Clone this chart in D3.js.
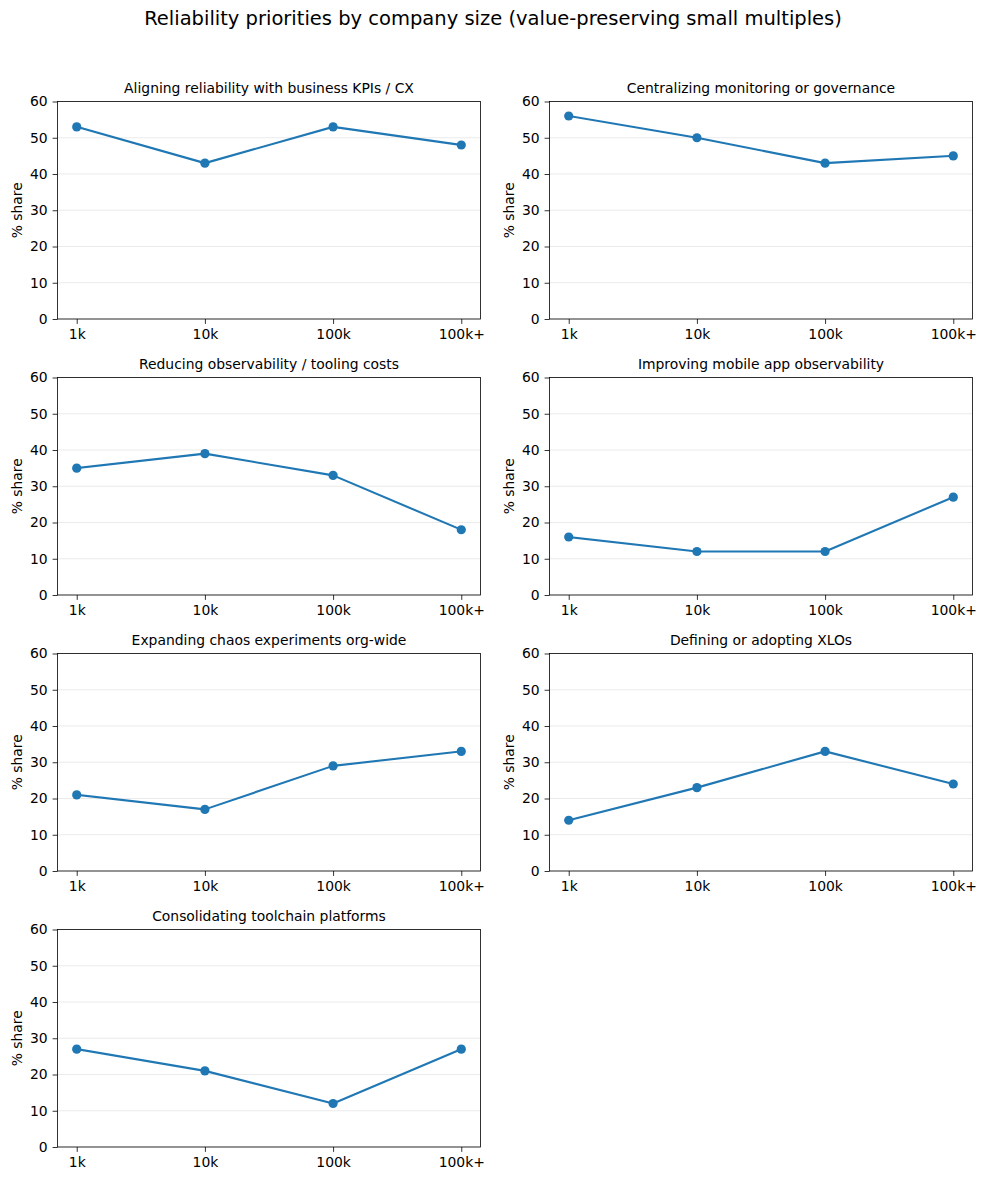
<!DOCTYPE html>
<html>
<head>
<meta charset="utf-8">
<script src="https://cdn.jsdelivr.net/npm/d3@7"></script>
<style>
  body { margin: 0; background: #fff; }
  svg text { font-family: "DejaVu Sans", sans-serif; fill: #000; }
</style>
</head>
<body>
<div id="chart"></div>
<script>
// company size buckets
const sizes = ["1k", "10k", "100k", "100k+"];
const yTicks = [0, 10, 20, 30, 40, 50, 60];

const panelTitles = [
  "Aligning reliability with business KPIs / CX",
  "Centralizing monitoring or governance",
  "Reducing observability / tooling costs",
  "Improving mobile app observability",
  "Expanding chaos experiments org-wide",
  "Defining or adopting XLOs",
  "Consolidating toolchain platforms"
];

const kpiAlignment = [53, 43, 53, 48];
const centralizing = [56, 50, 43, 45];
const reducingCosts = [35, 39, 33, 18];
const mobileObs = [16, 12, 12, 27];
const chaosExperiments = [21, 17, 29, 33];
const xlos = [14, 23, 33, 24];
const consolidating = [27, 21, 12, 27];

const panelValues = [kpiAlignment, centralizing, reducingCosts, mobileObs, chaosExperiments, xlos, consolidating];

const width = 986, height = 1180;
const plotW = 423, plotH = 217.5;
const colX = [57.5, 549.5];
const rowY = [101.5, 377.5, 653.5, 929.5];
const blue = "#1f77b4";

const svg = d3.select("#chart").append("svg")
  .attr("width", width)
  .attr("height", height);

svg.append("text")
  .attr("x", width / 2)
  .attr("y", 25)
  .attr("text-anchor", "middle")
  .attr("font-size", "19.5px")
  .text("Reliability priorities by company size (value-preserving small multiples)");

const x = d3.scalePoint().domain(sizes).range([0, plotW]).padding(0.15);
const y = d3.scaleLinear().domain([0, 60]).range([plotH, 0]);

panelValues.forEach((vals, i) => {
  const g = svg.append("g")
    .attr("transform", `translate(${colX[i % 2]},${rowY[Math.floor(i / 2)]})`);

  // gridlines
  g.append("g")
    .selectAll("line")
    .data(yTicks)
    .enter()
    .append("line")
    .attr("x1", 0).attr("x2", plotW)
    .attr("y1", d => y(d)).attr("y2", d => y(d))
    .attr("stroke", "#e6e6e6")
    .attr("stroke-width", 0.8);

  const yAxis = g.append("g")
    .call(d3.axisLeft(y).tickValues(yTicks).tickSize(4.9).tickPadding(4.9));
  const xAxis = g.append("g")
    .attr("transform", `translate(0,${plotH})`)
    .call(d3.axisBottom(x).tickSize(4.9).tickPadding(4.9));
  [xAxis, yAxis].forEach(a => {
    a.select(".domain").remove();
    a.selectAll("line").attr("stroke", "#000").attr("stroke-width", 0.8);
    a.selectAll("text").attr("font-size", "13.9px").attr("font-family", "DejaVu Sans, sans-serif").attr("fill", "#000");
  });

  // frame
  g.append("rect")
    .attr("width", plotW)
    .attr("height", plotH)
    .attr("fill", "none")
    .attr("stroke", "#000")
    .attr("stroke-width", 0.8);

  const line = d3.line()
    .x((d, j) => x(sizes[j]))
    .y(d => y(d));

  g.append("path")
    .datum(vals)
    .attr("d", line)
    .attr("fill", "none")
    .attr("stroke", blue)
    .attr("stroke-width", 2.08)
    .attr("stroke-linejoin", "round")
    .attr("stroke-linecap", "square");

  g.selectAll("circle")
    .data(vals)
    .enter()
    .append("circle")
    .attr("cx", (d, j) => x(sizes[j]))
    .attr("cy", d => y(d))
    .attr("r", 4.6)
    .attr("fill", blue);

  g.append("text")
    .attr("x", plotW / 2)
    .attr("y", -8.3)
    .attr("text-anchor", "middle")
    .attr("font-size", "13.9px")
    .text(panelTitles[i]);

  g.append("text")
    .attr("transform", `translate(${-36},${plotH / 2}) rotate(-90)`)
    .attr("text-anchor", "middle")
    .attr("font-size", "13.9px")
    .text("% share");
});
</script>
</body>
</html>
